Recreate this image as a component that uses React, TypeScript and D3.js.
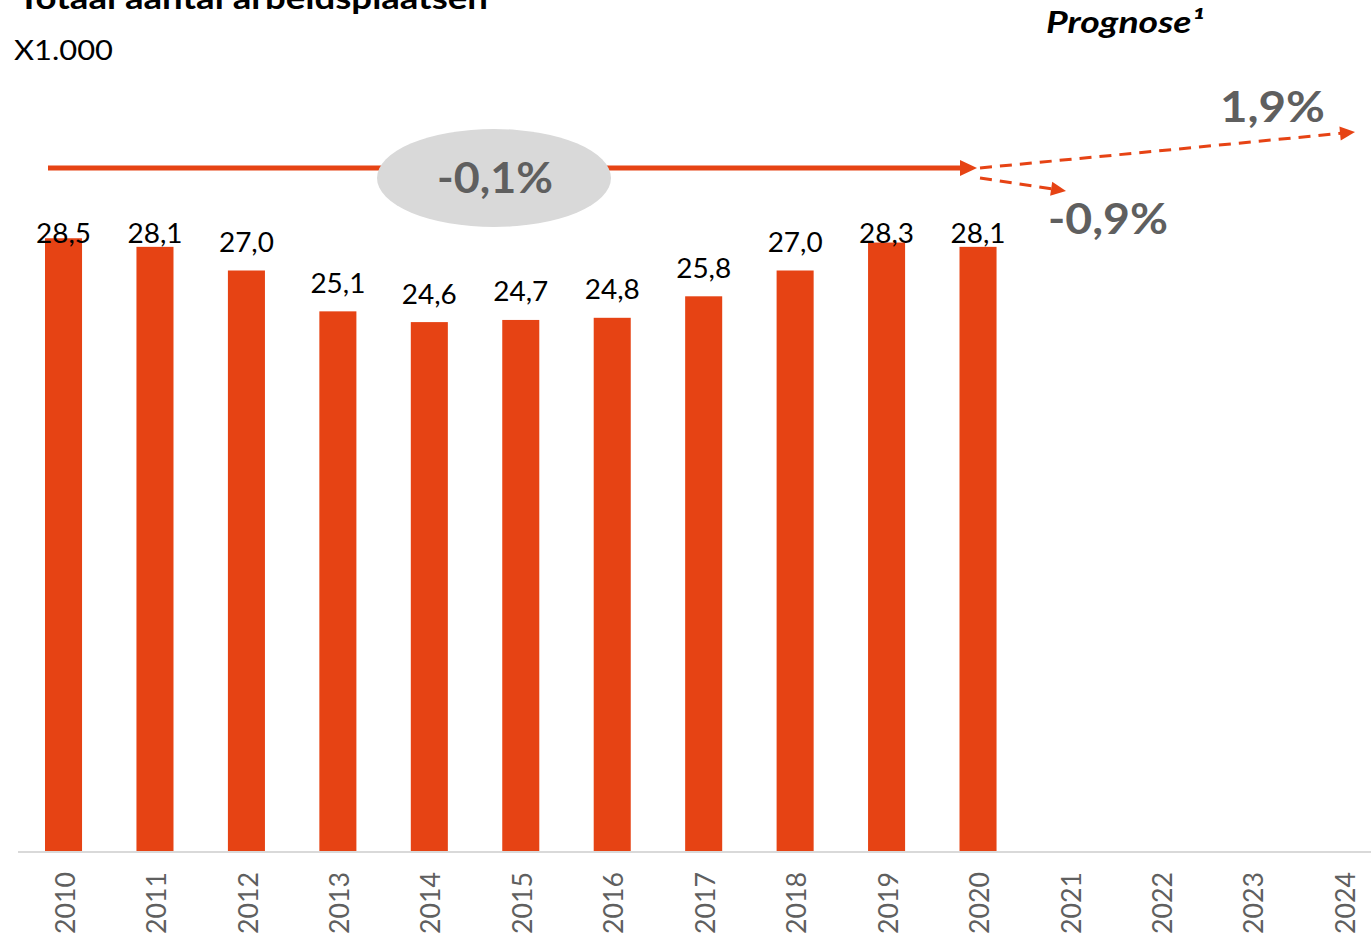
import React from "react";
import * as d3 from "d3";

const years = ["2010","2011","2012","2013","2014","2015","2016","2017","2018","2019","2020","2021","2022","2023","2024"];
const values: (number | null)[] = [28.5, 28.1, 27.0, 25.1, 24.6, 24.7, 24.8, 25.8, 27.0, 28.3, 28.1, null, null, null, null];
const valueLabels = ["28,5","28,1","27,0","25,1","24,6","24,7","24,8","25,8","27,0","28,3","28,1"];
const title = "Totaal aantal arbeidsplaatsen";
const unitLabel = "X1.000";
const forecastTitle = "Prognose\u00B9";
const cagrHist = "-0,1%";
const cagrHigh = "1,9%";
const cagrLow = "-0,9%";

const W = 1371, H = 936;
const ORANGE = "#E64314";
const GRAY = "#5F5F5F";
const FONT = "Lato, 'Open Sans', sans-serif";

function arrowHead(x1: number, y1: number, x2: number, y2: number, len: number, half: number) {
  const a = Math.atan2(y2 - y1, x2 - x1);
  const bx = x2 - len * Math.cos(a), by = y2 - len * Math.sin(a);
  const px = -Math.sin(a) * half, py = Math.cos(a) * half;
  return `M${x2},${y2}L${bx + px},${by + py}L${bx - px},${by - py}Z`;
}

export default function App() {
  const x = d3.scaleBand<string>().domain(years).range([17.8, 17.8 + 15 * 91.45]).paddingInner(0.595).paddingOuter(0.2975);
  const y = d3.scaleLinear().domain([0, 30]).range([851, 851 - 30 * 21.5]);
  const bw = x.bandwidth();

  const main = { x1: 48, y1: 168, x2: 977, y2: 168 };
  const up = { x1: 980, y1: 168, x2: 1355, y2: 132 };
  const dn = { x1: 980, y1: 178, x2: 1066, y2: 191 };
  const shorten = (s: any, d: number) => {
    const a = Math.atan2(s.y2 - s.y1, s.x2 - s.x1);
    return { x: s.x2 - d * Math.cos(a), y: s.y2 - d * Math.sin(a) };
  };
  const mEnd = shorten(main, 14), uEnd = shorten(up, 14), dEnd = shorten(dn, 14);

  return (
    <svg width={W} height={H} style={{ position: "absolute", left: 0, top: 0, display: "block" }} fontFamily={FONT}>
      <rect width={W} height={H} fill="#fff" />
      <text x={18} y={9} fontSize={30} fontWeight={700} fill="#000" textLength={470} lengthAdjust="spacingAndGlyphs">{title}</text>
      <text x={14} y={60} fontSize={26} fill="#000" textLength={99} lengthAdjust="spacingAndGlyphs">{unitLabel}</text>
      <text x={1046} y={33} fontSize={30} fontWeight={700} fontStyle="italic" fill="#000" textLength={158} lengthAdjust="spacingAndGlyphs">{forecastTitle}</text>

      {years.map((yr, i) => values[i] == null ? null : (
        <rect key={yr} x={x(yr)!} y={y(values[i] as number)} width={bw} height={851 - y(values[i] as number)} fill={ORANGE} />
      ))}
      {years.map((yr, i) => values[i] == null ? null : (
        <text key={"l" + yr} x={x(yr)! + bw / 2} y={Math.max(y(values[i] as number) - 28, 234)} dy="0.35em" textAnchor="middle" fontSize={27} fill="#000" textLength={55} lengthAdjust="spacingAndGlyphs">{valueLabels[i]}</text>
      ))}

      <line x1={18} x2={W} y1={852} y2={852} stroke="#D9D9D9" strokeWidth={2} />
      {years.map((yr) => (
        <text key={"y" + yr} transform={`translate(${x(yr)! + bw / 2 + 2},872) rotate(-90)`} dy="0.35em" textAnchor="end" fontSize={26} fill={GRAY} textLength={62} lengthAdjust="spacingAndGlyphs">{yr}</text>
      ))}

      <line x1={main.x1} y1={main.y1} x2={mEnd.x} y2={mEnd.y} stroke={ORANGE} strokeWidth={5} />
      <path d={arrowHead(main.x1, main.y1, main.x2, main.y2, 17, 8)} fill={ORANGE} />
      <ellipse cx={494} cy={178} rx={117} ry={49} fill="#D9D9D9" />
      <text x={437} y={178} dy="0.35em" fontSize={42} fontWeight={700} fill={GRAY} textLength={116} lengthAdjust="spacingAndGlyphs">{cagrHist}</text>

      <line x1={up.x1} y1={up.y1} x2={uEnd.x} y2={uEnd.y} stroke={ORANGE} strokeWidth={3} strokeDasharray="12 8" />
      <path d={arrowHead(up.x1, up.y1, up.x2, up.y2, 15, 7)} fill={ORANGE} />
      <line x1={dn.x1} y1={dn.y1} x2={dEnd.x} y2={dEnd.y} stroke={ORANGE} strokeWidth={3} strokeDasharray="12 8" />
      <path d={arrowHead(dn.x1, dn.y1, dn.x2, dn.y2, 15, 7)} fill={ORANGE} />
      <text x={1220} y={122} fontSize={42} fontWeight={700} fill={GRAY} textLength={105} lengthAdjust="spacingAndGlyphs">{cagrHigh}</text>
      <text x={1048} y={234} fontSize={42} fontWeight={700} fill={GRAY} textLength={120} lengthAdjust="spacingAndGlyphs">{cagrLow}</text>
    </svg>
  );
}
